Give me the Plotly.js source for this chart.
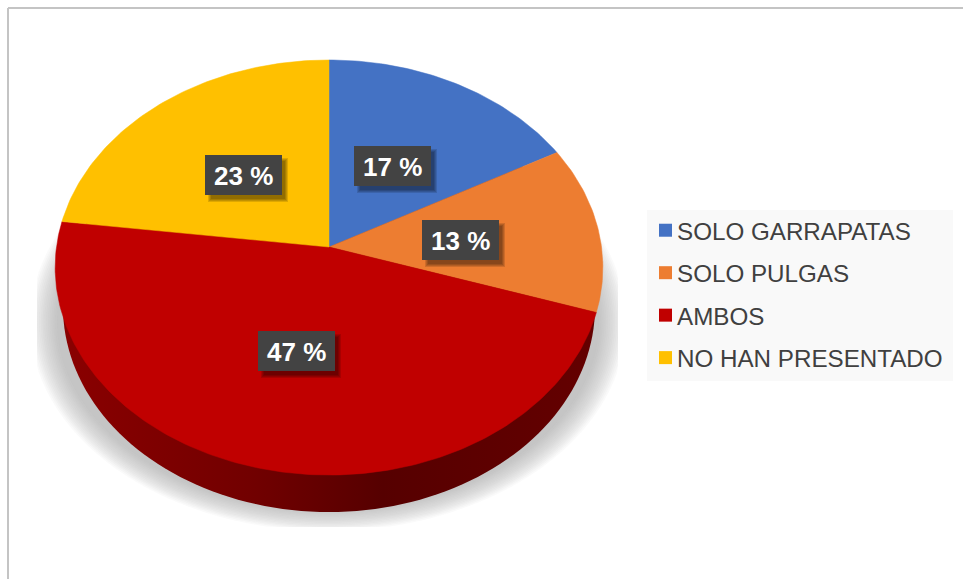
<!DOCTYPE html>
<html>
<head>
<meta charset="utf-8">
<script src="https://cdn.plot.ly/plotly-3.0.1.min.js"></script>
<style>html,body{margin:0;padding:0;background:#fff}#chart{width:963px;height:579px}</style>
</head>
<body>
<div id="chart"></div>
<script>
// Data
const categories = ["SOLO GARRAPATAS", "SOLO PULGAS", "AMBOS", "NO HAN PRESENTADO"];
const values = [17, 13, 47, 23];
const colors = ["#4472C4", "#ED7D31", "#C00000", "#FFC000"];

// Tilted-disc projection of the pie (apex, perspective, radii, in axis units)
const FONT = "Liberation Sans, Arial, sans-serif";
const disc = {cx: 329, apexY: 247, C: 272.5, A: 205.5, p: -0.0988};
const project = (deg) => {
  const t = deg * Math.PI / 180, u = Math.sin(t), v = -Math.cos(t), d = 1 + disc.p * v;
  return [disc.cx + disc.C * u / d, disc.apexY + disc.A * v / d];
};
const ellipse = (cx, cy, rx, ry, box) => {
  const xs = [], ys = [];
  for (let a = 0; a <= 360; a += 2) {
    let x = cx + rx * Math.cos(a * Math.PI / 180), y = cy + ry * Math.sin(a * Math.PI / 180);
    if (box) { x = Math.min(box.x1, Math.max(box.x0, x)); y = Math.min(box.y1, y); }
    xs.push(x); ys.push(y);
  }
  return {x: xs, y: ys};
};

const traces = [];
// Soft shadow, clipped to its picture box as in the original
const shadowBox = {x0: 37, x1: 618, y1: 527};
const steps = 16;
for (let i = 0; i < steps; i++) {
  const e = ellipse(328, 322, 298 - i * 1.8, 209 - i * 1.4, shadowBox);
  traces.push({type: "scatter", mode: "none", x: e.x, y: e.y, fill: "toself",
    fillcolor: "rgba(165,165,167,0.055)", showlegend: false, hoverinfo: "skip"});
}
// Side wall of the disc
const wall = ellipse(329, 307, 266, 205);
traces.push({type: "scatter", mode: "none", x: wall.x, y: wall.y, fill: "toself",
  fillgradient: {type: "horizontal", colorscale: [[0, "#8a0000"], [0.35, "#720000"], [0.6, "#560000"], [1, "#640000"]]},
  showlegend: false, hoverinfo: "skip"});

// Slices, from the values
const total = values.reduce((a, b) => a + b, 0);
let acc = 0;
values.forEach((val, i) => {
  const start = acc / total * 360, end = (acc + val) / total * 360;
  acc += val;
  const xs = [disc.cx], ys = [disc.apexY];
  for (let a = start; a < end; a += 1) { const p = project(a); xs.push(p[0]); ys.push(p[1]); }
  const last = project(end); xs.push(last[0], disc.cx); ys.push(last[1], disc.apexY);
  traces.push({type: "scatter", mode: "lines", x: xs, y: ys, fill: "toself", fillcolor: colors[i],
    line: {color: colors[i], width: 0.5}, name: categories[i], showlegend: false,
    hovertemplate: categories[i] + ": " + val + " %<extra></extra>"});
});
// Legend entries
categories.forEach((name, i) => {
  traces.push({type: "scatter", mode: "markers", x: [null], y: [null], name: name, legendgroup: "g" + i,
    marker: {symbol: "square", size: 13, color: colors[i]}, hoverinfo: "skip"});
});

// Percentage labels
const labelCentres = [[392.5, 166], [243.5, 175], [460.5, 240], [296.5, 351]]; // label boxes
const labelOrder = [0, 3, 1, 2];
const labW = 77, labH = 40;
const shapes = [
  {type: "line", xref: "x", yref: "y", x0: 8, x1: 8, y0: 8, y1: 579, line: {color: "#c4c4c4", width: 2}, layer: "below"},
  {type: "line", xref: "x", yref: "y", x0: 8, x1: 963, y0: 8, y1: 8, line: {color: "#c4c4c4", width: 2}, layer: "below"},
  {type: "rect", xref: "x", yref: "y", x0: 647, x1: 953, y0: 210, y1: 381, fillcolor: "#f9f9f9", line: {width: 0}, layer: "below"}
];
const annotations = [];
labelCentres.forEach((c, k) => {
  for (let s = 0; s < 4; s++) {
    shapes.push({type: "rect", xref: "x", yref: "y", x0: c[0] - labW / 2 + 3 + s, x1: c[0] + labW / 2 + 6 - s,
      y0: c[1] - labH / 2 + 3 + s, y1: c[1] + labH / 2 + 7 - s, fillcolor: "rgba(0,0,0,0.13)", line: {width: 0}, layer: "above"});
  }
  shapes.push({type: "rect", xref: "x", yref: "y", x0: c[0] - labW / 2, x1: c[0] + labW / 2,
    y0: c[1] - labH / 2, y1: c[1] + labH / 2, fillcolor: "#434343", line: {width: 0}, layer: "above"});
  annotations.push({xref: "x", yref: "y", x: c[0], y: c[1] + 1, text: "<b>" + values[labelOrder[k]] + " %</b>", showarrow: false,
    font: {family: FONT, size: 26, color: "#ffffff"}});
});

const layout = {
  width: 963, height: 579,
  margin: {l: 0, r: 0, t: 0, b: 0},
  paper_bgcolor: "#ffffff", plot_bgcolor: "rgba(0,0,0,0)",
  hovermode: "closest",
  xaxis: {range: [0, 963], visible: false, fixedrange: true},
  yaxis: {range: [579, 0], visible: false, fixedrange: true},
  showlegend: true,
  legend: {x: 637 / 963, xanchor: "left", y: 1 - 208 / 579, yanchor: "top", bgcolor: "rgba(0,0,0,0)", borderwidth: 0,
    traceorder: "grouped", tracegroupgap: 8, font: {family: FONT, size: 24.2, color: "#404040"}},
  shapes: shapes,
  annotations: annotations
};
Plotly.newPlot("chart", traces, layout, {displayModeBar: false}).then(() => {
  // the original swatches sit closer to their text than Plotly's default legend gap
  document.querySelectorAll("#chart .legendpoints").forEach(g => g.setAttribute("transform", "translate(8.5,0)"));
});
</script>
</body>
</html>
